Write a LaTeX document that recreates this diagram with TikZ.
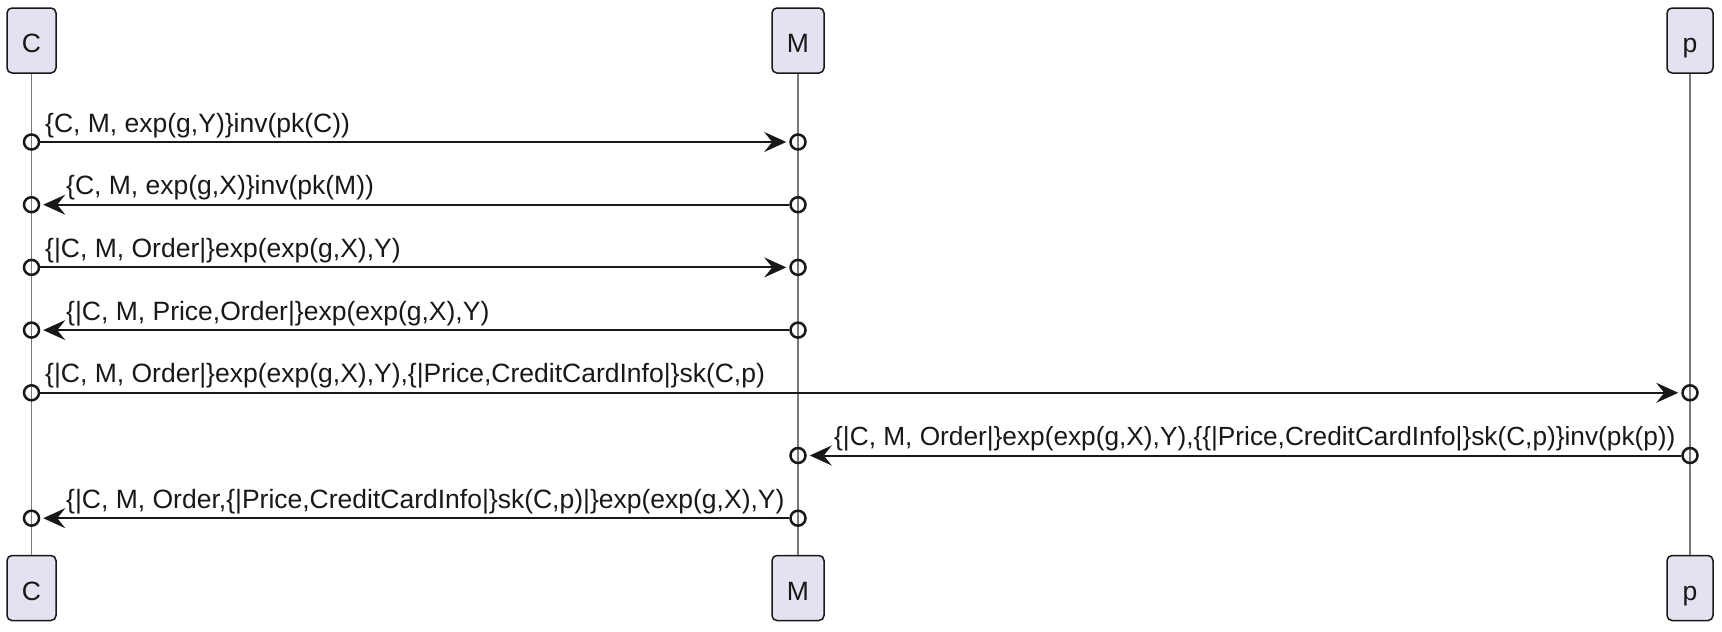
\documentclass[tikz,border=0pt]{standalone}
\usepackage{fontspec}
\setmainfont{Liberation Sans}
\usetikzlibrary{arrows.meta}
\definecolor{boxfill}{HTML}{E2E2F0}
\definecolor{ink}{HTML}{181818}
\definecolor{lifegray}{HTML}{7A7A7A}
\begin{document}
\begin{tikzpicture}[x=1pt,y=-1pt,
  part/.style={draw=ink,fill=boxfill,line width=1.5pt,rounded corners=5pt,minimum height=65pt,inner sep=0pt,text height=24pt,text depth=0pt,font=\fontsize{26.5}{30}\selectfont,text=ink},
  life/.style={draw=lifegray,line width=1.2pt},
  endpt/.style={circle,draw=ink,line width=2.5pt,minimum size=15pt,inner sep=0pt},
  msg/.style={draw=ink,line width=2pt,-{Stealth[length=22pt,width=20pt,inset=8pt]},shorten >=3pt},
  lbl/.style={anchor=base west,inner sep=0pt,font=\fontsize{26.5}{30}\selectfont,text=ink}]
\useasboundingbox (0,0) rectangle (1722,632);
% participants
\node[part,minimum width=49pt] (Ct) at (31.5,40.5) {C};
\node[part,minimum width=52pt] (Mt) at (798,40.5) {M};
\node[part,minimum width=46pt] (pt) at (1690,40.5) {p};
\node[part,minimum width=49pt] (Cb) at (31.5,588) {C};
\node[part,minimum width=52pt] (Mb) at (798,588) {M};
\node[part,minimum width=46pt] (pb) at (1690,588) {p};
\draw[life] (Ct.south) -- (Cb.north);
\draw[life] (Mt.south) -- (Mb.north);
\draw[life] (pt.south) -- (pb.north);
% message end points
\node[endpt] (c1) at (31.5,142) {};  \node[endpt] (m1) at (798,142) {};
\node[endpt] (c2) at (31.5,204.7) {}; \node[endpt] (m2) at (798,204.7) {};
\node[endpt] (c3) at (31.5,267.4) {}; \node[endpt] (m3) at (798,267.4) {};
\node[endpt] (c4) at (31.5,330.1) {}; \node[endpt] (m4) at (798,330.1) {};
\node[endpt] (c5) at (31.5,392.8) {}; \node[endpt] (p5) at (1690,392.8) {};
\node[endpt] (m6) at (798,455.5) {}; \node[endpt] (p6) at (1690,455.5) {};
\node[endpt] (c7) at (31.5,518.2) {}; \node[endpt] (m7) at (798,518.2) {};
% messages
\draw[msg] (c1) -- (m1);
\draw[msg] (m2) -- (c2);
\draw[msg] (c3) -- (m3);
\draw[msg] (m4) -- (c4);
\draw[msg] (c5) -- (p5);
\draw[msg] (p6) -- (m6);
\draw[msg] (m7) -- (c7);
% labels
\node[lbl] (l1) at (45,132) {\{C, M, exp(g,Y)\}inv(pk(C))};
\node[lbl] (l2) at (66,194.7) {\{C, M, exp(g,X)\}inv(pk(M))};
\node[lbl] (l3) at (45,257.4) {\{|C, M, Order|\}exp(exp(g,X),Y)};
\node[lbl] (l4) at (66,320.1) {\{|C, M, Price,Order|\}exp(exp(g,X),Y)};
\node[lbl] (l5) at (45,382.8) {\{|C, M, Order|\}exp(exp(g,X),Y),\{|Price,CreditCardInfo|\}sk(C,p)};
\node[lbl,font=\fontsize{26.25}{30}\selectfont] (l6) at (834,445.5) {\{|C, M, Order|\}exp(exp(g,X),Y),\{\{|Price,CreditCardInfo|\}sk(C,p)\}inv(pk(p))};
\node[lbl] (l7) at (66,508.2) {\{|C, M, Order,\{|Price,CreditCardInfo|\}sk(C,p)|\}exp(exp(g,X),Y)};
\end{tikzpicture}
\end{document}
